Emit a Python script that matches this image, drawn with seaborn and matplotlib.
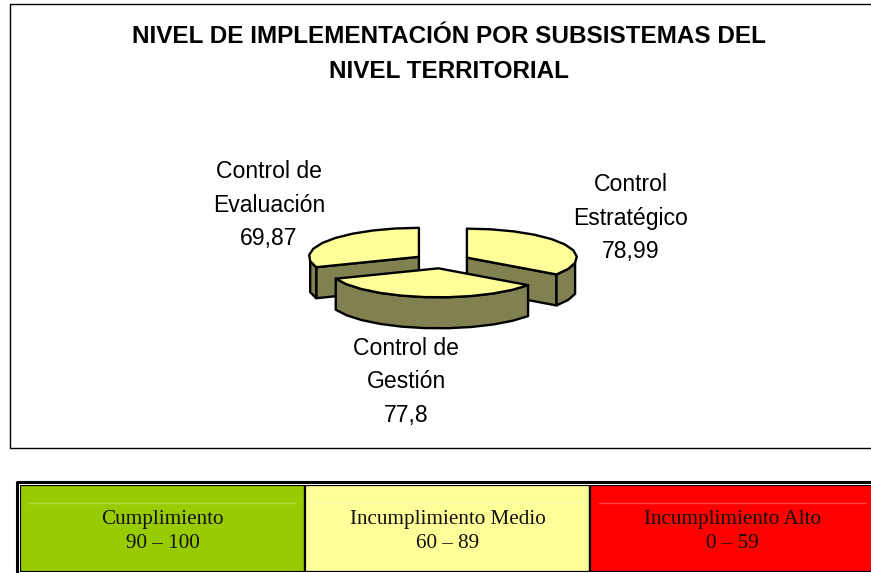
import numpy as np
import matplotlib
matplotlib.use("Agg")
import matplotlib.pyplot as plt
import seaborn as sns

# datos del grafico
subsistemas = ["Control\nEstratégico", "Control de\nGestión", "Control de\nEvaluación"]
valores = [78.99, 77.8, 69.87]
valores_txt = ["78,99", "77,8", "69,87"]
titulo = "NIVEL DE IMPLEMENTACIÓN POR SUBSISTEMAS DEL\nNIVEL TERRITORIAL"

niveles = ["Cumplimiento", "Incumplimiento Medio", "Incumplimiento Alto"]
rangos = ["90 – 100", "60 – 89", "0 – 59"]
colores = ["#99CC00", "#FFFF99", "#FF0000"]

sns.set_theme(style="white")
plt.rcParams["font.family"] = ["Liberation Sans", "DejaVu Sans"]

W, H = 871, 573
fig = plt.figure(figsize=(W / 100, H / 100), dpi=100)
ax = fig.add_axes([0, 0, 1, 1])
ax.set_xlim(0, W)
ax.set_ylim(H, 0)
ax.axis("off")

# marco del grafico
ax.plot([874, 10, 10, 874], [4, 4, 448, 448], color="black", lw=1)
ax.text(449, 54, titulo, ha="center", va="center", fontsize=17.5, fontweight="bold",
        color="black", linespacing=1.66)

# pastel 3D separado, calculado desde los valores
cx, cy = 442, 261
rx, ry = 110, 29
explota = 28
alto = 31
paso = 12.0
cara = "#FFFF99"
lado = "#808050"

total = sum(valores)
fin = 90 - np.cumsum(valores) / total * 360
ini = np.r_[90, fin[:-1]]


def wedge(a0, a1):
    med = np.radians((a0 + a1) / 2)
    ox = cx + explota * np.cos(med)
    oy = cy - explota * ry / rx * np.sin(med)
    n = max(int(abs(a1 - a0) / paso), 2)
    ang = np.radians(np.linspace(a0, a1, n + 1))
    return ox, oy, ox + rx * np.cos(ang), oy - ry * np.sin(ang), ang


def poner(xs, ys, color, z):
    ax.fill(xs, ys, facecolor=color, edgecolor="black", lw=1.7, joinstyle="round", zorder=z)


# orden: Evaluacion, Estrategico, Gestion (el del frente al final)
for z, i in enumerate([2, 0, 1]):
    ox, oy, ex, ey, ang = wedge(ini[i], fin[i])
    base = 3 + z * 3
    # cara de corte visible de cada porcion
    if i == 0:
        poner([ox, ex[-1], ex[-1], ox], [oy, ey[-1], ey[-1] + alto, oy + alto], lado, base)
    if i == 2:
        poner([ox, ex[0], ex[0], ox], [oy, ey[0], ey[0] + alto, oy + alto], lado, base)
    # borde exterior visible (parte delantera)
    vis = np.sin(ang) <= 0.02
    if vis.any():
        poner(np.r_[ex[vis], ex[vis][::-1]], np.r_[ey[vis], ey[vis][::-1] + alto], lado, base + 1)
    poner(np.r_[ox, ex], np.r_[oy, ey], cara, base + 2)

# etiquetas
pos_etq = [(631, 218), (406, 382), (269, 205)]
for (x, y), s, v in zip(pos_etq, subsistemas, valores_txt):
    ax.text(x, y, s + "\n" + v, ha="center", va="center", fontsize=16.6, color="black",
            linespacing=1.6, zorder=20)

# tabla de rangos
tabla = fig.add_axes([20 / W, 1 - 572 / H, 855 / W, 87 / H])
sns.barplot(x=niveles, y=[1, 1, 1], hue=niveles, palette=colores, width=1, saturation=1,
            legend=False, ax=tabla, edgecolor="black", linewidth=1.6)
tabla.set_xlim(-0.5, 2.5)
tabla.set_ylim(0, 1)
tabla.axis("off")
for k, (n, r) in enumerate(zip(niveles, rangos)):
    tabla.text(k, 0.46, n + "\n" + r, ha="center", va="center", fontsize=15.2,
               family="Liberation Serif", color="#111111", linespacing=1.36)
    tabla.plot([k - 0.47, k + 0.47], [0.79, 0.79], color="white", alpha=0.25, lw=1)

ax.plot([874, 17, 17], [482, 482, 573], color="black", lw=2.2)

fig.savefig("out.png", dpi=100)
